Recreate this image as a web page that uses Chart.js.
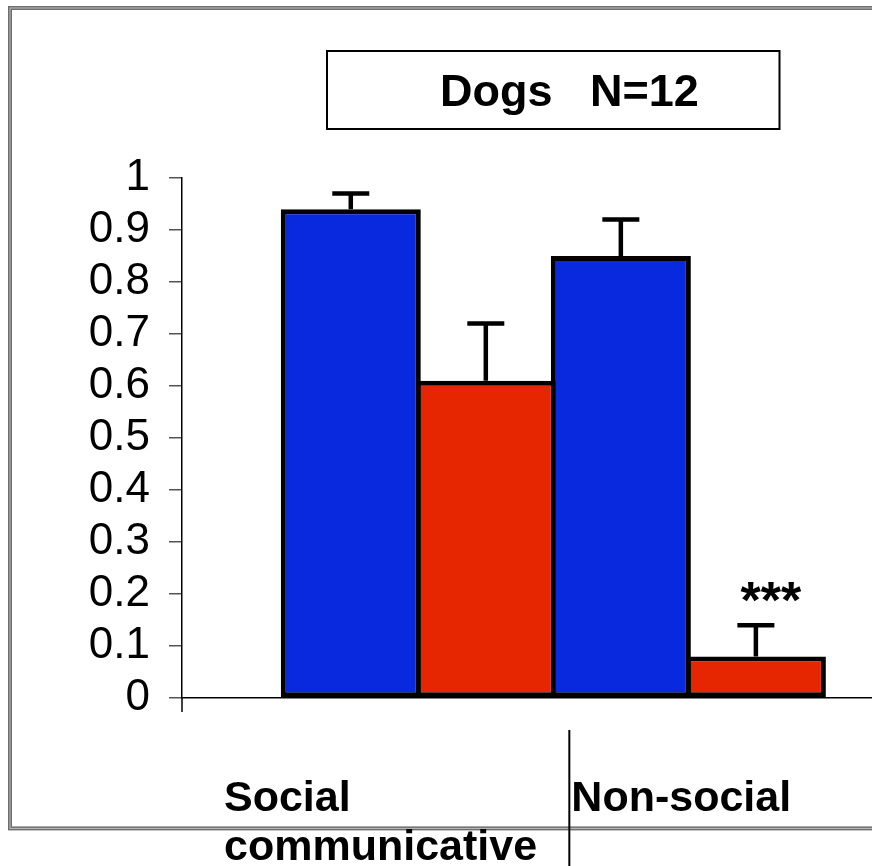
<!DOCTYPE html>
<html>
<head>
<meta charset="utf-8">
<script src="https://cdn.jsdelivr.net/npm/chart.js@4.4.1/dist/chart.umd.min.js"></script>
<style>
    html, body { margin: 0; padding: 0; background: #fff; }
    #wrap { width: 872px; height: 866px; }
</style>
</head>
<body>
<div id="wrap"><canvas id="barChart" width="872" height="866"></canvas></div>
<script>
const titleText = 'Dogs   N=12';
const categories = [['Social', 'communicative'], ['Non-social']];
const groupIndex = [0, 1];
const blueValues = [0.94, 0.85];
const blueErrors = [0.03, 0.07];
const redValues = [0.61, 0.08];
const redErrors = [0.11, 0.06];
const redMarks = ['', '***'];
const yTickLabels = ['0', '0.1', '0.2', '0.3', '0.4', '0.5', '0.6', '0.7', '0.8', '0.9', '1'];

const FONT = "'Liberation Sans', Arial, sans-serif";

function toPoints(values) {
    return groupIndex.map((g, i) => ({x: g, y: values[i]}));
}

// white page + the grey double frame
const framePlugin = {
    id: 'frame',
    beforeDraw(chart) {
        const ctx = chart.ctx;
        ctx.save();
        ctx.fillStyle = '#fff';
        ctx.fillRect(0, 0, chart.width, chart.height);
        ctx.strokeStyle = '#6e6e6e';
        ctx.lineWidth = 4;
        ctx.strokeRect(10, 8, chart.width + 20, 820.4);
        ctx.strokeStyle = '#bdbdbd';
        ctx.lineWidth = 1;
        ctx.strokeRect(10, 8, chart.width + 20, 820.4);
        ctx.restore();
    }
};

// error bars (upper half only) and the significance stars
const errorBarPlugin = {
    id: 'errorBars',
    afterDatasetsDraw(chart) {
        const ctx = chart.ctx;
        const y = chart.scales.y;
        ctx.save();
        ctx.strokeStyle = '#000';
        ctx.fillStyle = '#000';
        ctx.lineWidth = 4.5;
        chart.data.datasets.forEach((ds, di) => {
            chart.getDatasetMeta(di).data.forEach((bar, i) => {
                const top = y.getPixelForValue(ds.data[i].y + ds.errors[i]);
                ctx.beginPath();
                ctx.moveTo(bar.x, bar.y);
                ctx.lineTo(bar.x, top);
                ctx.moveTo(bar.x - 18.5, top);
                ctx.lineTo(bar.x + 18.5, top);
                ctx.stroke();
                if (ds.marks && ds.marks[i]) {
                    ctx.font = 'bold 52px ' + FONT;
                    ctx.textAlign = 'center';
                    ctx.textBaseline = 'alphabetic';
                    ctx.fillText(ds.marks[i], bar.x + 15, top - 7);
                }
            });
        });
        ctx.restore();
    }
};

// title box, category cells under the axis
const tablePlugin = {
    id: 'table',
    afterDraw(chart) {
        const ctx = chart.ctx;
        const area = chart.chartArea;
        const x = chart.scales.x;
        ctx.save();
        ctx.strokeStyle = '#000';

        // y axis runs a bit past the x axis
        ctx.lineWidth = 1.5;
        ctx.beginPath();
        ctx.moveTo(area.left, area.bottom);
        ctx.lineTo(area.left, area.bottom + 14);
        ctx.stroke();

        // cell separator
        const sep = x.getPixelForValue(0.5) + 16;
        ctx.lineWidth = 2;
        ctx.beginPath();
        ctx.moveTo(sep, area.bottom + 32);
        ctx.lineTo(sep, chart.height);
        ctx.stroke();

        ctx.fillStyle = '#000';
        ctx.font = 'bold 43px ' + FONT;
        ctx.textAlign = 'left';
        ctx.textBaseline = 'alphabetic';
        const starts = [area.left + 42, sep + 2];
        categories.forEach((lines, i) => {
            lines.forEach((t, j) => {
                ctx.fillText(t, starts[i], 811 + j * 49);
            });
        });

        // title box
        ctx.lineWidth = 2;
        ctx.strokeRect(327, 51, 452.5, 78);
        ctx.font = 'bold 45px ' + FONT;
        ctx.fillText(titleText, 440, 106);
        ctx.restore();
    }
};

const ctx = document.getElementById('barChart').getContext('2d');

new Chart(ctx, {
    type: 'bar',
    data: {
        datasets: [
            {
                label: 'blue',
                data: toPoints(blueValues),
                errors: blueErrors,
                backgroundColor: '#0829de',
                borderColor: '#000',
                borderWidth: 5,
                borderSkipped: false,
                inflateAmount: 0,
                barPercentage: 140 / 135,
                categoryPercentage: 1
            },
            {
                label: 'red',
                data: toPoints(redValues),
                errors: redErrors,
                marks: redMarks,
                backgroundColor: '#e62600',
                borderColor: '#000',
                borderWidth: 5,
                borderSkipped: false,
                inflateAmount: 0,
                barPercentage: 140 / 135,
                categoryPercentage: 1
            }
        ]
    },
    options: {
        responsive: false,
        animation: false,
        devicePixelRatio: 1,
        layout: {
            padding: {top: 178, bottom: 168, left: 0, right: 0}
        },
        scales: {
            x: {
                type: 'linear',
                min: -0.875,
                max: 1.68,
                offset: false,
                grid: {display: false, offset: false},
                border: {display: true, color: '#000', width: 1.5},
                ticks: {display: false, stepSize: 1, includeBounds: false},
                afterFit: function (s) {
                    s.height = 0;
                }
            },
            y: {
                min: 0,
                max: 1,
                grid: {
                    drawOnChartArea: false,
                    drawTicks: true,
                    tickLength: 13,
                    color: '#555',
                    lineWidth: 1.5
                },
                border: {display: true, color: '#000', width: 1.5},
                ticks: {
                    stepSize: 0.1,
                    autoSkip: false,
                    padding: 19,
                    color: '#000',
                    font: {family: FONT, size: 44},
                    callback: function (v, i) {
                        return yTickLabels[i];
                    }
                },
                afterFit: function (s) {
                    s.width = 182;
                }
            }
        },
        plugins: {
            legend: {display: false},
            tooltip: {enabled: false},
            title: {display: false}
        }
    },
    plugins: [framePlugin, errorBarPlugin, tablePlugin]
});
</script>
</body>
</html>
